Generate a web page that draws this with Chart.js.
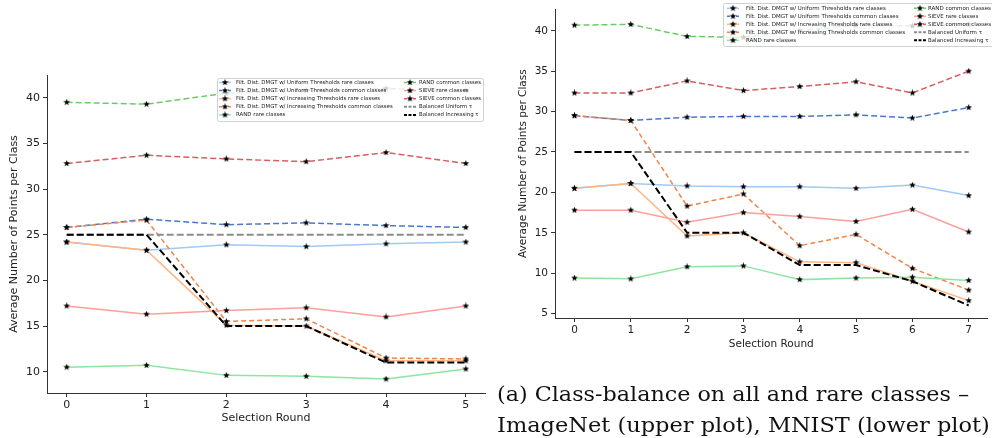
<!DOCTYPE html>
<html>
<head>
<meta charset="utf-8">
<script src="https://cdn.jsdelivr.net/npm/chart.js@4.4.1/dist/chart.umd.min.js"></script>
<style>
html, body { margin: 0; padding: 0; background: #fff; }
body { width: 992px; height: 438px; position: relative; overflow: hidden; }
#boxA { position: absolute; left: 0; top: 0; width: 500px; height: 438px; }
#boxB { position: absolute; left: 500px; top: 0; width: 492px; height: 365px; }
.cap { position: absolute; left: 497px; font-family: "DejaVu Serif", serif; font-size: 20px;
       line-height: 20px; color: #111; white-space: nowrap; transform-origin: 0 0; }
</style>
</head>
<body>
<div id="boxA"><canvas id="imagenet"></canvas></div>
<div id="boxB"><canvas id="mnist"></canvas></div>
<div class="cap" id="cap1" style="top:384px">(a) Class-balance on all and rare classes –</div>
<div class="cap" id="cap2" style="top:415px">ImageNet (upper plot), MNIST (lower plot)</div>
<script>
// legend labels, same for both plots
const seriesLabels = [
    'Filt. Dist. DMGT w/ Uniform Thresholds rare classes',
    'Filt. Dist. DMGT w/ Uniform Thresholds common classes',
    'Filt. Dist. DMGT w/ Increasing Thresholds rare classes',
    'Filt. Dist. DMGT w/ Increasing Thresholds common classes',
    'RAND rare classes',
    'RAND common classes',
    'SIEVE rare classes',
    'SIEVE common classes',
    'Balanced Uniform τ',
    'Balanced Increasing τ'
];

// ImageNet (left plot)
const roundsImageNet = [0, 1, 2, 3, 4, 5];
const inUniRare     = [24.2, 23.3, 23.9, 23.7, 24.0, 24.2];
const inUniCommon   = [25.8, 26.7, 26.1, 26.3, 26.0, 25.8];
const inIncRare     = [24.2, 23.3, 15.1, 15.0, 11.2, 11.2];
const inIncCommon   = [25.8, 26.6, 15.5, 15.8, 11.5, 11.4];
const inRandRare    = [10.5, 10.7, 9.6, 9.5, 9.2, 10.3];
const inRandCommon  = [39.5, 39.3, 40.5, 40.8, 41.0, 40.8];
const inSieveRare   = [17.2, 16.3, 16.7, 17.0, 16.0, 17.2];
const inSieveCommon = [32.8, 33.7, 33.3, 33.0, 34.0, 32.8];
const inBalUniform  = [25, 25, 25, 25, 25, 25];
const inBalIncr     = [25, 25, 15, 15, 11, 11];

// MNIST (right plot)
const roundsMnist = [0, 1, 2, 3, 4, 5, 6, 7];
const mnUniRare     = [20.5, 21.1, 20.8, 20.7, 20.7, 20.5, 20.9, 19.6];
const mnUniCommon   = [29.5, 28.9, 29.3, 29.4, 29.4, 29.6, 29.2, 30.5];
const mnIncRare     = [20.5, 21.1, 14.6, 15.0, 11.4, 11.3, 9.0, 6.6];
const mnIncCommon   = [29.5, 28.9, 18.3, 19.8, 13.4, 14.8, 10.6, 7.9];
const mnRandRare    = [9.4, 9.3, 10.8, 10.9, 9.2, 9.4, 9.5, 9.1];
const mnRandCommon  = [40.7, 40.8, 39.3, 39.2, 40.0, 40.7, 40.6, 40.8];
const mnSieveRare   = [17.8, 17.8, 16.3, 17.5, 17.0, 16.4, 17.9, 15.1];
const mnSieveCommon = [32.3, 32.3, 33.8, 32.6, 33.1, 33.7, 32.3, 35.0];
const mnBalUniform  = [25, 25, 25, 25, 25, 25, 25, 25];
const mnBalIncr     = [25, 25, 15, 15, 11, 11, 9, 6];

// line styles per series (seaborn muted / pastel)
const seriesStyles = [
    { color: '#a1c9f4', dash: [], width: 1.5, star: true },
    { color: '#4878d0', dash: [6, 3], width: 1.5, star: true },
    { color: '#ffb482', dash: [], width: 1.5, star: true },
    { color: '#ee854a', dash: [5, 3], width: 1.5, star: true },
    { color: '#8de5a1', dash: [], width: 1.5, star: true },
    { color: '#6acc64', dash: [6, 3], width: 1.5, star: true },
    { color: '#ff9f9b', dash: [], width: 1.5, star: true },
    { color: '#d65f5f', dash: [6, 3], width: 1.5, star: true },
    { color: '#8c8c8c', dash: [7, 3], width: 2, star: false },
    { color: '#000000', dash: [7, 3], width: 2, star: false }
];

// small filled black star used as marker
function makeStar(size) {
    const c = document.createElement('canvas');
    c.width = c.height = size;
    const g = c.getContext('2d');
    const r = size / 2, ri = r * 0.42;
    g.beginPath();
    for (let i = 0; i < 10; i++) {
        const a = -Math.PI / 2 + i * Math.PI / 5;
        const rr = i % 2 ? ri : r;
        g.lineTo(r + rr * Math.cos(a), r + rr * Math.sin(a));
    }
    g.closePath();
    g.fillStyle = '#000';
    g.fill();
    return c;
}
const starImg = makeStar(7);

function buildDatasets(rounds, lists) {
    return lists.map((vals, i) => {
        const st = seriesStyles[i];
        return {
            label: seriesLabels[i],
            data: vals.map((v, k) => ({ x: rounds[k], y: v })),
            borderColor: st.color,
            backgroundColor: st.color,
            borderWidth: st.width,
            borderDash: st.dash,
            pointStyle: st.star ? starImg : 'circle',
            pointRadius: st.star ? 3 : 0,
            pointHoverRadius: 0,
            tension: 0,
            fill: false,
            order: -i   // later series drawn on top, like matplotlib
        };
    });
}

// legend drawn inside the plot area, two columns
const insideLegend = {
    id: 'insideLegend',
    afterDraw(chart, args, o) {
        const ctx = chart.ctx;
        ctx.save();
        ctx.fillStyle = 'rgba(255,255,255,0.8)';
        ctx.strokeStyle = '#d0d0d0';
        ctx.lineWidth = 1;
        ctx.beginPath();
        ctx.roundRect(o.box[0] + 0.5, o.box[1] + 0.5, o.box[2], o.box[3], 2);
        ctx.fill();
        ctx.stroke();

        ctx.font = '10px "DejaVu Sans"';
        const w10 = ctx.measureText(seriesLabels[0]).width;
        const fs = 10 * o.textW / w10;
        ctx.font = fs.toFixed(2) + 'px "DejaVu Sans"';
        ctx.textBaseline = 'middle';

        chart.data.datasets.forEach((ds, i) => {
            const col = o.cols[i < 5 ? 0 : 1];
            const y = o.y0 + (i % 5) * o.rowH;
            ctx.strokeStyle = ds.borderColor;
            ctx.lineWidth = ds.borderWidth;
            ctx.setLineDash(ds.borderDash.length ? [3, 1.5] : []);
            ctx.beginPath();
            ctx.moveTo(col.sx, y);
            ctx.lineTo(col.sx + o.swatch, y);
            ctx.stroke();
            ctx.setLineDash([]);
            if (ds.pointRadius > 0) {
                ctx.drawImage(starImg, col.sx + o.swatch / 2 - 3.5, y - 3.5);
            }
            ctx.fillStyle = '#222';
            ctx.fillText(ds.label, col.tx, y);
        });
        ctx.restore();
    }
};

function axisFont(size) {
    return { family: '"DejaVu Sans"', size: size };
}

function makeChart(id, rounds, lists, cfg) {
    const ctx = document.getElementById(id).getContext('2d');
    return new Chart(ctx, {
        type: 'line',
        data: { datasets: buildDatasets(rounds, lists) },
        options: {
            responsive: true,
            maintainAspectRatio: false,
            animation: false,
            layout: { padding: cfg.padding },
            scales: {
                x: {
                    type: 'linear',
                    min: cfg.xMin,
                    max: cfg.xMax,
                    afterFit(s) { s.height = cfg.xHeight; },
                    ticks: { stepSize: 1, includeBounds: false, color: '#222', font: axisFont(cfg.tickSize), padding: 2 },
                    grid: { drawOnChartArea: false, drawTicks: true, tickLength: 4, color: '#333' },
                    border: { display: true, color: '#333', width: 1 },
                    title: { display: true, text: 'Selection Round', color: '#222',
                             font: axisFont(cfg.titleSize), padding: { top: 0, bottom: cfg.xTitlePad } }
                },
                y: {
                    type: 'linear',
                    min: cfg.yMin,
                    max: cfg.yMax,
                    afterFit(s) { s.width = cfg.yWidth; },
                    ticks: { stepSize: 5, includeBounds: false, color: '#222', font: axisFont(cfg.tickSize), padding: 3 },
                    grid: { drawOnChartArea: false, drawTicks: true, tickLength: 4, color: '#333' },
                    border: { display: true, color: '#333', width: 1 },
                    title: { display: true, text: 'Average Number of Points per Class', color: '#222',
                             font: axisFont(cfg.titleSize), padding: { top: cfg.yTitlePad, bottom: 0 } }
                }
            },
            plugins: {
                legend: { display: false },
                tooltip: { enabled: false },
                insideLegend: cfg.legend
            }
        },
        plugins: [insideLegend]
    });
}

makeChart('imagenet', roundsImageNet,
    [inUniRare, inUniCommon, inIncRare, inIncCommon, inRandRare,
     inRandCommon, inSieveRare, inSieveCommon, inBalUniform, inBalIncr],
    {
        padding: { left: 0, right: 15, top: 75, bottom: 0 },
        xMin: -0.247, xMax: 5.24, yMin: 7.67, yMax: 42.49,
        xHeight: 45, yWidth: 47, tickSize: 11, titleSize: 11,
        xTitlePad: 13, yTitlePad: 8,
        legend: { box: [217, 78, 266, 43], cols: [{ sx: 219, tx: 236 }, { sx: 404, tx: 419 }],
                  y0: 82.5, rowH: 8.1, swatch: 12, textW: 138 }
    });

makeChart('mnist', roundsMnist,
    [mnUniRare, mnUniCommon, mnIncRare, mnIncCommon, mnRandRare,
     mnRandCommon, mnSieveRare, mnSieveCommon, mnBalUniform, mnBalIncr],
    {
        padding: { left: 0, right: 0, top: 2, bottom: 0 },
        xMin: -0.346, xMax: 7.334, yMin: 4.45, yMax: 42.66,
        xHeight: 47, yWidth: 55, tickSize: 10.5, titleSize: 10.5,
        xTitlePad: 14, yTitlePad: 17,
        legend: { box: [223, 3, 280, 43], cols: [{ sx: 227, tx: 246 }, { sx: 414, tx: 428 }],
                  y0: 8.3, rowH: 8, swatch: 12, textW: 140 }
    });

// stretch caption lines to the widths they take in the figure
[['cap1', 472], ['cap2', 493]].forEach(([id, w]) => {
    const el = document.getElementById(id);
    const k = w / el.getBoundingClientRect().width;
    el.style.transform = 'scaleX(' + k.toFixed(3) + ')';
});
</script>
</body>
</html>
